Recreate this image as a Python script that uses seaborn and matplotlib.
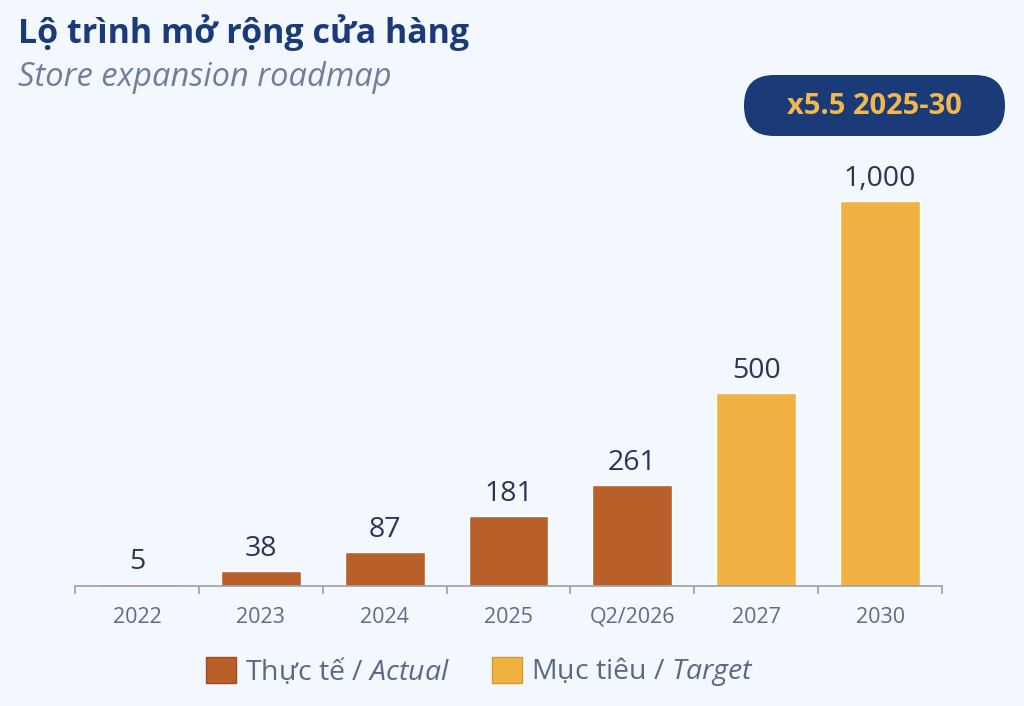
import numpy as np
import pandas as pd
import seaborn as sns
import matplotlib.pyplot as plt
from matplotlib.patches import FancyBboxPatch, Patch
from matplotlib.transforms import IdentityTransform

# data
periods = ['2022', '2023', '2024', '2025', 'Q2/2026', '2027', '2030']
stores = [5, 38, 87, 181, 261, 500, 1000]
kinds = ['Thực tế / $\\mathit{Actual}$'] * 5 + ['Mục tiêu / $\\mathit{Target}$'] * 2
value_labels = ['5', '38', '87', '181', '261', '500', '1,000']

bg = '#F3F7FE'
navy = '#1B3A78'
actual_col = '#B85F2A'
target_col = '#F2B243'
tick_col = '#5E6C86'

sns.set_theme(style='white')
plt.rcParams['font.family'] = ['Open Sans', 'DejaVu Sans']
plt.rcParams['mathtext.fontset'] = 'custom'
plt.rcParams['mathtext.it'] = 'Open Sans:italic'
plt.rcParams['mathtext.rm'] = 'Open Sans'

df = pd.DataFrame({'period': periods, 'stores': stores, 'kind': kinds})

fig = plt.figure(figsize=(10.24, 7.06), dpi=100, facecolor=bg)
ax = fig.add_axes([75 / 1024, 120 / 706, 867 / 1024, 446 / 706])
ax.set_facecolor(bg)

sns.barplot(data=df, x='period', y='stores', hue='kind',
            palette=[actual_col, target_col], dodge=False,
            width=0.645, ax=ax, legend=False, saturation=1)

ax.set_xlim(-0.5, len(periods) - 0.5)
ax.set_ylim(0, 1158)
for i, (v, lab) in enumerate(zip(stores, value_labels)):
    ax.annotate(lab, (i, v), xytext=(0, 6), textcoords='offset points',
                ha='center', va='bottom', fontsize=20.5, color='#263654')

for s in ['top', 'right', 'left']:
    ax.spines[s].set_visible(False)
ax.spines['bottom'].set_color('#9AA0AA')
ax.spines['bottom'].set_linewidth(1.2)
ax.set_yticks([])
ax.set_xlabel('')
ax.set_ylabel('')
ax.set_xticks(np.arange(-0.5, len(periods)), labels=[])
ax.set_xticks(np.arange(len(periods)), labels=periods, minor=True)
ax.tick_params(axis='x', which='major', length=6, width=1.2, color='#9AA0AA',
               direction='out', bottom=True)
ax.tick_params(axis='x', which='minor', length=0, pad=15, labelsize=15.5,
               labelcolor=tick_col)

# legend
handles = [Patch(facecolor=actual_col, edgecolor='#9C4E20', label=kinds[0]),
           Patch(facecolor=target_col, edgecolor='#D09A35', label=kinds[-1])]
fig.legend(handles=handles, loc='center', bbox_to_anchor=(480 / 1024, 1 - 672 / 706),
           ncol=2, frameon=False, fontsize=20.5, labelcolor='#5A6984',
           handlelength=1.05, handleheight=1.05, handletextpad=0.3, columnspacing=1.5)

# titles
fig.text(18 / 1024, 1 - 33 / 706, 'Lộ trình mở rộng cửa hàng', fontsize=24.5,
         fontweight='bold', color=navy, va='center')
fig.text(18 / 1024, 1 - 78 / 706, 'Store expansion roadmap', fontsize=23.5,
         style='italic', color='#6F7F9B', va='center')

# badge (pixel coordinates, origin bottom-left)
badge = FancyBboxPatch((744, 706 - 136), 261, 61,
                       boxstyle='round,pad=0,rounding_size=30',
                       transform=IdentityTransform(), facecolor=navy,
                       edgecolor='none')
fig.patches.append(badge)
fig.text(874 / 1024, 1 - 106 / 706, 'x5.5 2025-30', fontsize=21,
         fontweight='bold', color='#F2B84B', ha='center', va='center')

fig.savefig('out.png', dpi=100, facecolor=bg)
